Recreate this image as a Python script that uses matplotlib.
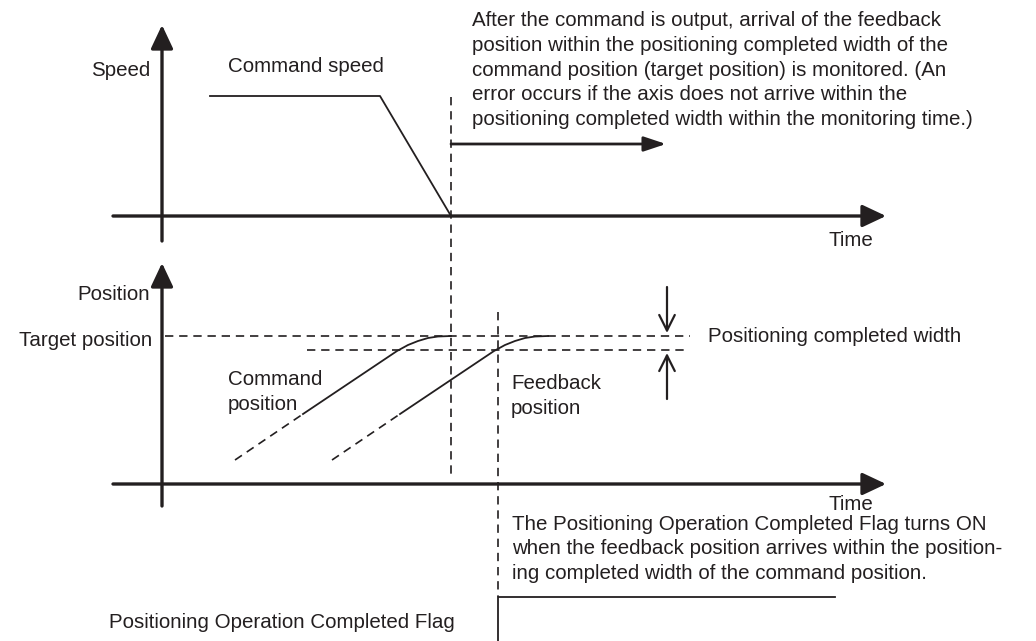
import matplotlib.pyplot as plt
import numpy as np

plt.rcParams["font.family"] = ["Liberation Sans", "DejaVu Sans"]
INK = "#231f20"

# command speed profile (x, y in picture pixels)
speed_x = [210, 380, 451]
speed_y = [96, 96, 216]

# command position: dashed lead-in, then solid ramp with rounded top
cmd_dash_x = [235, 303]
cmd_dash_y = [460, 414]
cmd_x = [303, 397, 408, 418, 428, 438, 451]
cmd_y = [414, 351, 345, 341, 338, 336.5, 336]

# feedback position lags command by a fixed time
lag = 97
fb_dash_x = [x + lag for x in cmd_dash_x]
fb_x = [x + lag for x in cmd_x]

target_y = 336
width_y = 350

fig = plt.figure(figsize=(10.36, 6.41), dpi=100)
ax = fig.add_axes([0, 0, 1, 1])
ax.set_xlim(0, 1036)
ax.set_ylim(641, 0)
ax.axis("off")

axis_kw = dict(arrowstyle="-|>,head_length=0.85,head_width=0.4", color=INK, lw=2.4,
               mutation_scale=17, shrinkA=0, shrinkB=0)
# speed axes
ax.annotate("", xy=(162, 25), xytext=(162, 241), arrowprops=axis_kw)
ax.annotate("", xy=(886, 216), xytext=(113, 216), arrowprops=axis_kw)
# position axes
ax.annotate("", xy=(162, 263), xytext=(162, 506), arrowprops=axis_kw)
ax.annotate("", xy=(886, 484), xytext=(113, 484), arrowprops=axis_kw)

ax.plot(speed_x, speed_y, color=INK, lw=1.3)

dash = (0, (5, 3.5))
ax.plot([451, 451], [97, 478], color=INK, lw=1.2, ls=dash)
ax.plot([498, 498], [312, 597], color=INK, lw=1.2, ls=dash)
ax.plot([165, 690], [target_y, target_y], color=INK, lw=1.2, ls=dash)
ax.plot([307, 688], [width_y, width_y], color=INK, lw=1.2, ls=dash)

ax.plot(cmd_dash_x, cmd_dash_y, color=INK, lw=1.2, ls=dash)
ax.plot(cmd_x, cmd_y, color=INK, lw=1.3)
ax.plot(fb_dash_x, cmd_dash_y, color=INK, lw=1.2, ls=dash)
ax.plot(fb_x, cmd_y, color=INK, lw=1.3)

# monitoring arrow
ax.annotate("", xy=(666, 144), xytext=(451, 144),
            arrowprops=dict(arrowstyle="-|>,head_length=0.9,head_width=0.3", color=INK,
                            lw=2.0, mutation_scale=15, shrinkA=0, shrinkB=0))

# width bracket arrows
thin = dict(arrowstyle="->,head_length=0.7,head_width=0.35", color=INK, lw=1.6,
            mutation_scale=16, shrinkA=0, shrinkB=0)
ax.annotate("", xy=(667, 333), xytext=(667, 287), arrowprops=thin)
ax.annotate("", xy=(667, 353), xytext=(667, 399), arrowprops=thin)

# flag signal
ax.plot([498, 498, 835], [641, 597, 597], color=INK, lw=1.3)

fs = 14.8
tk = dict(fontsize=fs, color=INK, va="center", linespacing=1.38)
ax.text(150, 70, "Speed", ha="right", **tk)
ax.text(228, 67, "Command speed", ha="left", **tk)
ax.text(873, 241, "Time", ha="right", **tk)
ax.text(150, 294, "Position", ha="right", **tk)
ax.text(152, 340, "Target position", ha="right", **tk)
ax.text(873, 504, "Time", ha="right", **tk)
ax.text(708, 336, "Positioning completed width", ha="left", **tk)
ax.text(228, 392, "Command\nposition", ha="left", **tk)
ax.text(511, 396, "Feedback\nposition", ha="left", **tk)
ax.text(455, 622, "Positioning Operation Completed Flag", ha="right", **tk)
ax.text(472, 70,
        "After the command is output, arrival of the feedback\n"
        "position within the positioning completed width of the\n"
        "command position (target position) is monitored. (An\n"
        "error occurs if the axis does not arrive within the\n"
        "positioning completed width within the monitoring time.)",
        ha="left", **tk)
ax.text(512, 549,
        "The Positioning Operation Completed Flag turns ON\n"
        "when the feedback position arrives within the position-\n"
        "ing completed width of the command position.",
        ha="left", **tk)

fig.savefig("out.png", dpi=100)
